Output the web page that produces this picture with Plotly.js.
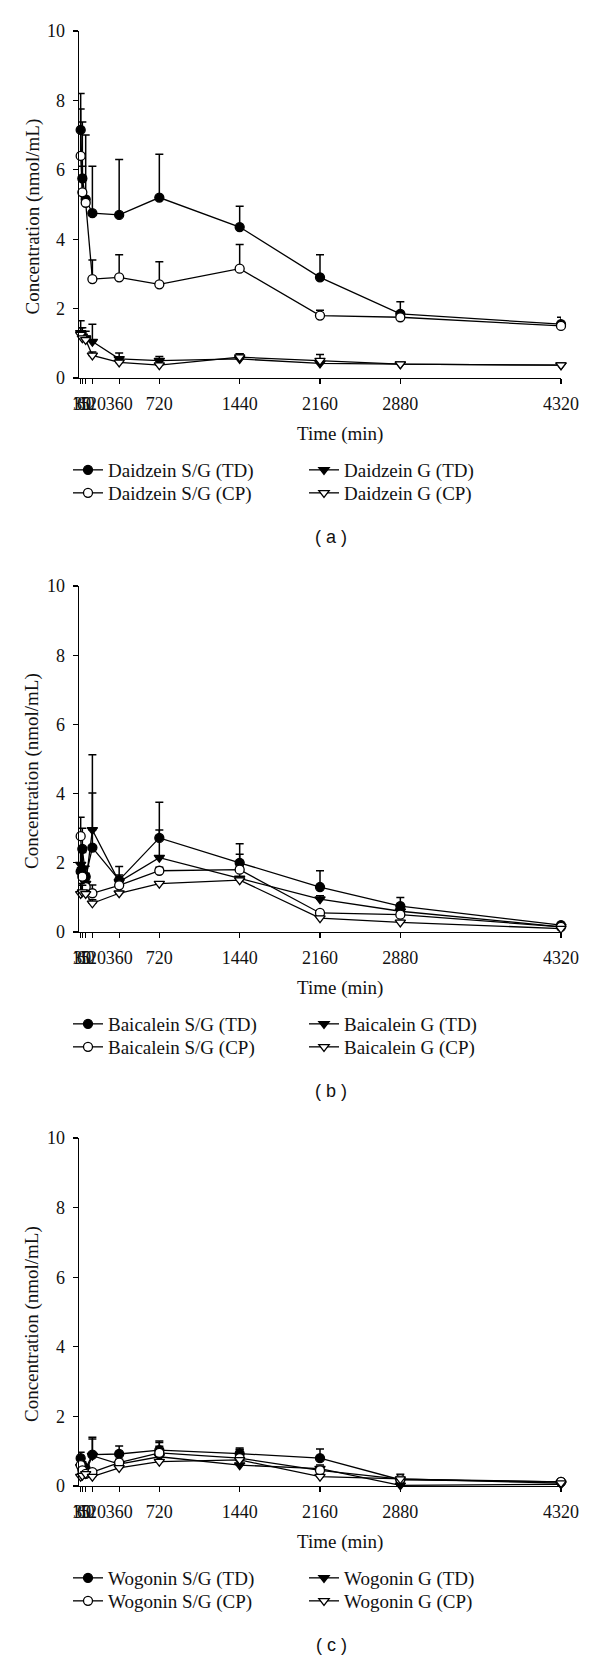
<!DOCTYPE html>
<html><head><meta charset="utf-8">
<script src="https://cdn.plot.ly/plotly-3.0.1.min.js"></script>
<style>body{margin:0;background:#fff}</style>
</head><body><div id="chart" style="width:600px;height:1661px"></div>
<script>
// Time points (min)
const times = [15, 30, 60, 120, 360, 720, 1440, 2160, 2880, 4320];
const xTickVals = [15, 30, 60, 120, 360, 720, 1440, 2160, 2880, 4320];
const xTickText = ['15', '30', '60', '120', '360', '720', '1440', '2160', '2880', '4320'];

// Panel (a) Daidzein
const daidzeinSG_TD = [7.15, 5.75, 5.15, 4.75, 4.7, 5.2, 4.35, 2.9, 1.85, 1.55];
const daidzeinSG_TD_err = [1.05, 1.63, 1.85, 1.35, 1.6, 1.25, 0.6, 0.65, 0.35, 0.2];
const daidzeinG_TD = [1.3, 1.2, 1.15, 1.05, 0.55, 0.5, 0.55, 0.42, 0.4, 0.37];
const daidzeinG_TD_err = [0.35, 0.25, 0.2, 0.5, 0.17, 0.12, 0.15, 0.26, 0.02, 0.02];
const daidzeinSG_CP = [6.4, 5.35, 5.05, 2.85, 2.9, 2.7, 3.15, 1.8, 1.75, 1.5];
const daidzeinSG_CP_err = [1.35, 0.75, 0.1, 0.55, 0.65, 0.65, 0.7, 0.15, 0.05, 0.05];
const daidzeinG_CP = [1.25, 1.15, 1.1, 0.65, 0.45, 0.37, 0.6, 0.5, 0.4, 0.37];
const daidzeinG_CP_err = [0.2, 0.15, 0.1, 0.1, 0.1, 0.1, 0.1, 0.05, 0.02, 0.02];

// Panel (b) Baicalein
const baicaleinSG_TD = [1.75, 2.4, 1.6, 2.44, 1.5, 2.72, 2.0, 1.3, 0.75, 0.2];
const baicaleinSG_TD_err = [0.6, 0.6, 0.3, 1.58, 0.39, 1.03, 0.55, 0.47, 0.25, 0.05];
const baicaleinG_TD = [1.95, 1.8, 1.4, 2.95, 1.45, 2.15, 1.55, 0.95, 0.6, 0.15];
const baicaleinG_TD_err = [0.5, 0.5, 0.3, 2.17, 0.2, 0.8, 0.7, 0.1, 0.1, 0.05];
const baicaleinSG_CP = [2.77, 1.6, 1.3, 1.12, 1.35, 1.77, 1.8, 0.55, 0.5, 0.15];
const baicaleinSG_CP_err = [0.55, 0.3, 0.2, 0.24, 0.1, 0.1, 0.1, 0.05, 0.05, 0.02];
const baicaleinG_CP = [1.1, 1.15, 1.1, 0.83, 1.12, 1.4, 1.5, 0.4, 0.28, 0.1];
const baicaleinG_CP_err = [0.3, 0.2, 0.1, 0.1, 0.05, 0.05, 0.05, 0.05, 0.05, 0.02];

// Panel (c) Wogonin
const wogoninSG_TD = [0.8, 0.6, 0.5, 0.9, 0.92, 1.03, 0.93, 0.8, 0.18, 0.12];
const wogoninSG_TD_err = [0.17, 0.1, 0.1, 0.5, 0.23, 0.26, 0.16, 0.26, 0.05, 0.03];
const wogoninG_TD = [0.55, 0.45, 0.4, 0.87, 0.63, 0.84, 0.6, 0.5, 0.02, 0.05];
const wogoninG_TD_err = [0.2, 0.1, 0.05, 0.48, 0.1, 0.3, 0.45, 0.1, 0.0, 0.0];
const wogoninSG_CP = [0.6, 0.45, 0.35, 0.4, 0.67, 0.95, 0.8, 0.45, 0.2, 0.12];
const wogoninSG_CP_err = [0.2, 0.1, 0.05, 0.05, 0.1, 0.3, 0.25, 0.05, 0.14, 0.02];
const wogoninG_CP = [0.27, 0.3, 0.35, 0.27, 0.52, 0.7, 0.75, 0.27, 0.2, 0.08];
const wogoninG_CP_err = [0.05, 0.05, 0.05, 0.05, 0.05, 0.05, 0.05, 0.05, 0.05, 0.02];

const panels = [
  {name: 'Daidzein', caption: '( a )', series: [
    ['S/G (TD)', daidzeinSG_TD, daidzeinSG_TD_err],
    ['G (TD)', daidzeinG_TD, daidzeinG_TD_err],
    ['S/G (CP)', daidzeinSG_CP, daidzeinSG_CP_err],
    ['G (CP)', daidzeinG_CP, daidzeinG_CP_err]]},
  {name: 'Baicalein', caption: '( b )', series: [
    ['S/G (TD)', baicaleinSG_TD, baicaleinSG_TD_err],
    ['G (TD)', baicaleinG_TD, baicaleinG_TD_err],
    ['S/G (CP)', baicaleinSG_CP, baicaleinSG_CP_err],
    ['G (CP)', baicaleinG_CP, baicaleinG_CP_err]]},
  {name: 'Wogonin', caption: '( c )', series: [
    ['S/G (TD)', wogoninSG_TD, wogoninSG_TD_err],
    ['G (TD)', wogoninG_TD, wogoninG_TD_err],
    ['S/G (CP)', wogoninSG_CP, wogoninSG_CP_err],
    ['G (CP)', wogoninG_CP, wogoninG_CP_err]]}
];

const W = 600, H = 1661;
const serif = 'Liberation Serif, Times New Roman, serif';
const sans = 'Liberation Sans, Arial, sans-serif';
const txt = '#111';
// plot area pixel boxes [top, bottom]
const boxes = [[31, 378], [586, 932], [1138, 1486]];
const xPix = [79, 561];

const symbols = {
  'S/G (TD)': {symbol: 'circle', color: '#000', row: 0},
  'G (TD)': {symbol: 'triangle-down', color: '#000', row: 0},
  'S/G (CP)': {symbol: 'circle', color: '#fff', row: 1},
  'G (CP)': {symbol: 'triangle-down', color: '#fff', row: 1}
};

const traces = [];
const layout = {
  width: W, height: H,
  margin: {l: 0, r: 0, t: 0, b: 0},
  paper_bgcolor: '#fff', plot_bgcolor: '#fff',
  showlegend: true,
  annotations: []
};

panels.forEach((p, i) => {
  const k = i === 0 ? '' : String(i + 1);
  const [top, bot] = boxes[i];
  layout['xaxis' + k] = {
    domain: [xPix[0] / W, xPix[1] / W], range: [0, 4320], anchor: 'y' + k,
    tickmode: 'array', tickvals: xTickVals, ticktext: xTickText, tickangle: 0,
    ticks: 'outside', ticklen: 5, tickwidth: 1.2, tickcolor: '#000',
    showline: true, linecolor: '#000', linewidth: 1.3,
    showgrid: false, zeroline: false,
    tickfont: {family: serif, size: 18, color: txt}, ticklabelstandoff: 4
  };
  layout['yaxis' + k] = {
    domain: [1 - bot / H, 1 - top / H], range: [0, 10], anchor: 'x' + k,
    tickvals: [0, 2, 4, 6, 8, 10],
    ticks: 'outside', ticklen: 5, tickwidth: 1.2, tickcolor: '#000',
    showline: true, linecolor: '#000', linewidth: 1.3,
    showgrid: false, zeroline: false,
    tickfont: {family: serif, size: 18, color: txt}, ticklabelstandoff: 4
  };
  // one legend per legend row
  const legNames = [0, 1].map(r => {
    const n = i * 2 + r + 1;
    return n === 1 ? 'legend' : 'legend' + n;
  });
  legNames.forEach((ln, r) => {
    layout[ln] = {
      x: 68 / W, xanchor: 'left', y: 1 - (bot + 92 + r * 23) / H, yanchor: 'middle',
      orientation: 'h', entrywidth: 191, entrywidthmode: 'pixels',
      traceorder: 'normal', bgcolor: 'rgba(0,0,0,0)', borderwidth: 0,
      font: {family: serif, size: 19, color: txt}
    };
  });
  layout.annotations.push({
    xref: 'paper', yref: 'paper', x: 340 / W, y: 1 - (bot + 56) / H,
    xanchor: 'center', yanchor: 'middle', showarrow: false,
    text: 'Time (min)', font: {family: serif, size: 19, color: txt}
  });
  layout.annotations.push({
    xref: 'paper', yref: 'paper', x: 32 / W, y: 1 - ((top + bot) / 2 + 12) / H,
    xanchor: 'center', yanchor: 'middle', showarrow: false, textangle: -90,
    text: 'Concentration (nmol/mL)', font: {family: serif, size: 19, color: txt}
  });
  layout.annotations.push({
    xref: 'paper', yref: 'paper', x: 331 / W, y: 1 - (bot + 159) / H,
    xanchor: 'center', yanchor: 'middle', showarrow: false,
    text: p.caption, font: {family: sans, size: 18, color: txt}
  });
  p.series.forEach(([label, vals, err]) => {
    const s = symbols[label];
    traces.push({
      type: 'scatter', mode: 'lines+markers',
      name: p.name + ' ' + label,
      x: times, y: vals,
      xaxis: 'x' + k, yaxis: 'y' + k, legend: legNames[s.row],
      cliponaxis: false,
      line: {color: '#000', width: 1.3},
      marker: {symbol: s.symbol, size: 9, color: s.color, line: {color: '#000', width: 1.3}},
      error_y: {type: 'data', symmetric: false, array: err, arrayminus: vals.map(() => 0),
        color: '#000', thickness: 1.5, width: 4}
    });
  });
});

Plotly.newPlot('chart', traces, layout, {staticPlot: true});
</script>
</body></html>
